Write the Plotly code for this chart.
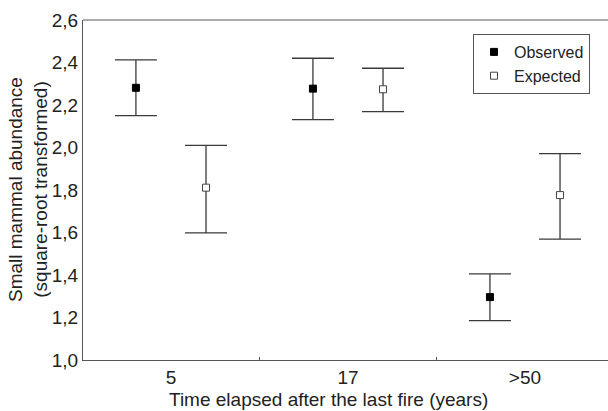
import plotly.graph_objects as go

categories = ["5", "17", ">50"]
observed_mean = [2.281, 2.277, 1.296]
observed_upper = [2.412, 2.420, 1.405]
observed_lower = [2.150, 2.131, 1.185]
expected_mean = [1.811, 2.274, 1.776]
expected_upper = [2.010, 2.373, 1.971]
expected_lower = [1.598, 2.169, 1.569]
y_ticks = [1.0, 1.2, 1.4, 1.6, 1.8, 2.0, 2.2, 2.4, 2.6]
y_tick_labels = ["1,0", "1,2", "1,4", "1,6", "1,8", "2,0", "2,2", "2,4", "2,6"]

OFFSET = 0.198
idx = list(range(len(categories)))
FONT = "Liberation Sans, Arial, sans-serif"
AXIS = "#555555"

def trace(name, means, ups, lows, shift, fill, line):
    return go.Scatter(
        x=[i + shift for i in idx], y=means, mode="markers", name=name,
        marker=dict(symbol="square", size=7, color=fill, line=dict(color=line, width=1)),
        error_y=dict(type="data", symmetric=False,
                     array=[u - m for u, m in zip(ups, means)],
                     arrayminus=[m - l for m, l in zip(means, lows)],
                     color="#3a3a3a", thickness=1.3, width=21),
    )

fig = go.Figure()
fig.add_trace(trace("Observed", observed_mean, observed_upper, observed_lower, -OFFSET, "black", "black"))
fig.add_trace(trace("Expected", expected_mean, expected_upper, expected_lower, OFFSET, "white", "#444444"))

fig.update_layout(
    width=608, height=411,
    margin=dict(l=83, r=0, t=20, b=51, autoexpand=False),
    paper_bgcolor="white", plot_bgcolor="white",
    font=dict(family=FONT, size=19, color="#222222"),
    showlegend=True,
    legend=dict(x=(473 - 83) / 525, y=(360 - 34) / 340, xanchor="left", yanchor="top",
                bordercolor=AXIS, borderwidth=1, bgcolor="white",
                font=dict(size=16), tracegroupgap=0, itemwidth=30),
    xaxis=dict(range=[-0.497, 2.469], tickvals=idx, ticktext=categories,
               showgrid=False, zeroline=False, showline=True, linecolor=AXIS,
               linewidth=1, mirror=False, ticks="",
               minor=dict(tick0=0.5, dtick=1, ticks="inside", ticklen=3, tickcolor=AXIS, showgrid=False),
               tickfont=dict(size=19)),
    yaxis=dict(range=[1.0, 2.6], tickvals=y_ticks, ticktext=y_tick_labels,
               showgrid=False, zeroline=False, showline=True, linecolor=AXIS,
               linewidth=1, ticks="", tickfont=dict(size=19)),
    shapes=[dict(type="line", xref="paper", yref="paper", x0=0, x1=1, y0=1, y1=1,
                 line=dict(color=AXIS, width=1))],
    annotations=[
        dict(text="Time elapsed after the last fire (years)", xref="paper", yref="paper",
             x=(328 - 83) / 525, y=-(387 - 360) / 340, xanchor="center", yanchor="top",
             showarrow=False, font=dict(size=19)),
        dict(text="Small mammal abundance<br>(square-root transformed)", xref="paper", yref="paper",
             x=(28 - 83) / 525, y=(360 - 190) / 340, xanchor="center", yanchor="middle", textangle=-90,
             showarrow=False, font=dict(size=19)),
    ],
)

fig.write_html("out.html", config={"displayModeBar": False},
               post_script="document.body.style.margin='0';")
